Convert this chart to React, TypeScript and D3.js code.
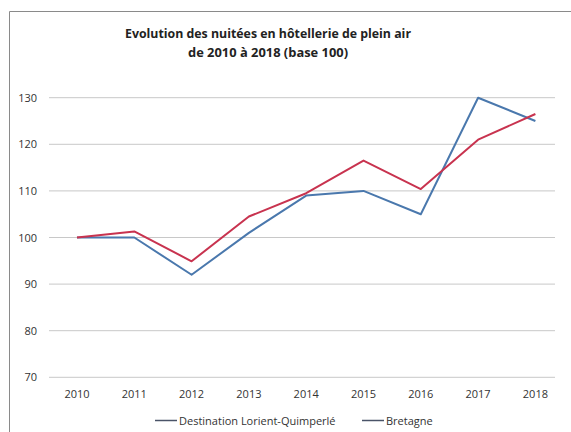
import React from "react";
import * as d3 from "d3";

const years = ["2010", "2011", "2012", "2013", "2014", "2015", "2016", "2017", "2018"];
const destination = [100, 100, 92, 101, 109, 110, 105, 130, 125];
const bretagne = [100, 101.3, 94.9, 104.5, 109.5, 116.5, 110.4, 121, 126.5];
const yTicks = [70, 80, 90, 100, 110, 120, 130];
const seriesNames = ["Destination Lorient-Quimperlé", "Bretagne"];
const titleLines = ["Evolution des nuitées en hôtellerie de plein air", "de 2010 à 2018 (base 100)"];

export default function App() {
  const W = 571, H = 432;
  const x = d3.scalePoint<string>().domain(years).range([77, 535.4]);
  const y = d3.scaleLinear().domain([70, 130]).range([377.3, 97.7]);
  const line = d3.line<number>().x((_, i) => x(years[i])!).y((d) => y(d));
  const font = "Open Sans, Liberation Sans, sans-serif";
  return (
    <svg width={W} height={H} style={{ position: "absolute", left: 0, top: 0, background: "#fff" }}>
      <rect x={0} y={0} width={W} height={H} fill="#fff" />
      <line x1={9.5} y1={11.5} x2={W} y2={11.5} stroke="#8a8a8a" strokeWidth={1} />
      <line x1={9.5} y1={11.5} x2={9.5} y2={H} stroke="#8a8a8a" strokeWidth={1} />
      <text x={268} y={38} textAnchor="middle" fontFamily={font} fontWeight="bold" fontSize={12.5} fill="#222" textLength={286} lengthAdjust="spacingAndGlyphs">{titleLines[0]}</text>
      <text x={268} y={57} textAnchor="middle" fontFamily={font} fontWeight="bold" fontSize={12.5} fill="#222" textLength={160} lengthAdjust="spacingAndGlyphs">{titleLines[1]}</text>
      {yTicks.map((t) => (
        <g key={t}>
          <line x1={49} x2={555} y1={y(t)} y2={y(t)} stroke="#c8c8c8" strokeWidth={1} />
          <text x={37} y={y(t) + 4} textAnchor="end" fontFamily={font} fontSize={11} fill="#333">{t}</text>
        </g>
      ))}
      {years.map((yr) => (
        <text key={yr} x={x(yr)!} y={398} textAnchor="middle" fontFamily={font} fontSize={11} fill="#333">{yr}</text>
      ))}
      <path d={line(destination)!} fill="none" stroke="#4a78ad" strokeWidth={2} strokeLinejoin="round" />
      <path d={line(bretagne)!} fill="none" stroke="#c8334f" strokeWidth={2} strokeLinejoin="round" />
      <line x1={155} x2={177} y1={420.5} y2={420.5} stroke="#4a5468" strokeWidth={1.5} />
      <text x={179} y={424.5} fontFamily={font} fontSize={11} fill="#333">{seriesNames[0]}</text>
      <line x1={362} x2={384} y1={420.5} y2={420.5} stroke="#4a5468" strokeWidth={1.5} />
      <text x={386} y={424.5} fontFamily={font} fontSize={11} fill="#333">{seriesNames[1]}</text>
    </svg>
  );
}
